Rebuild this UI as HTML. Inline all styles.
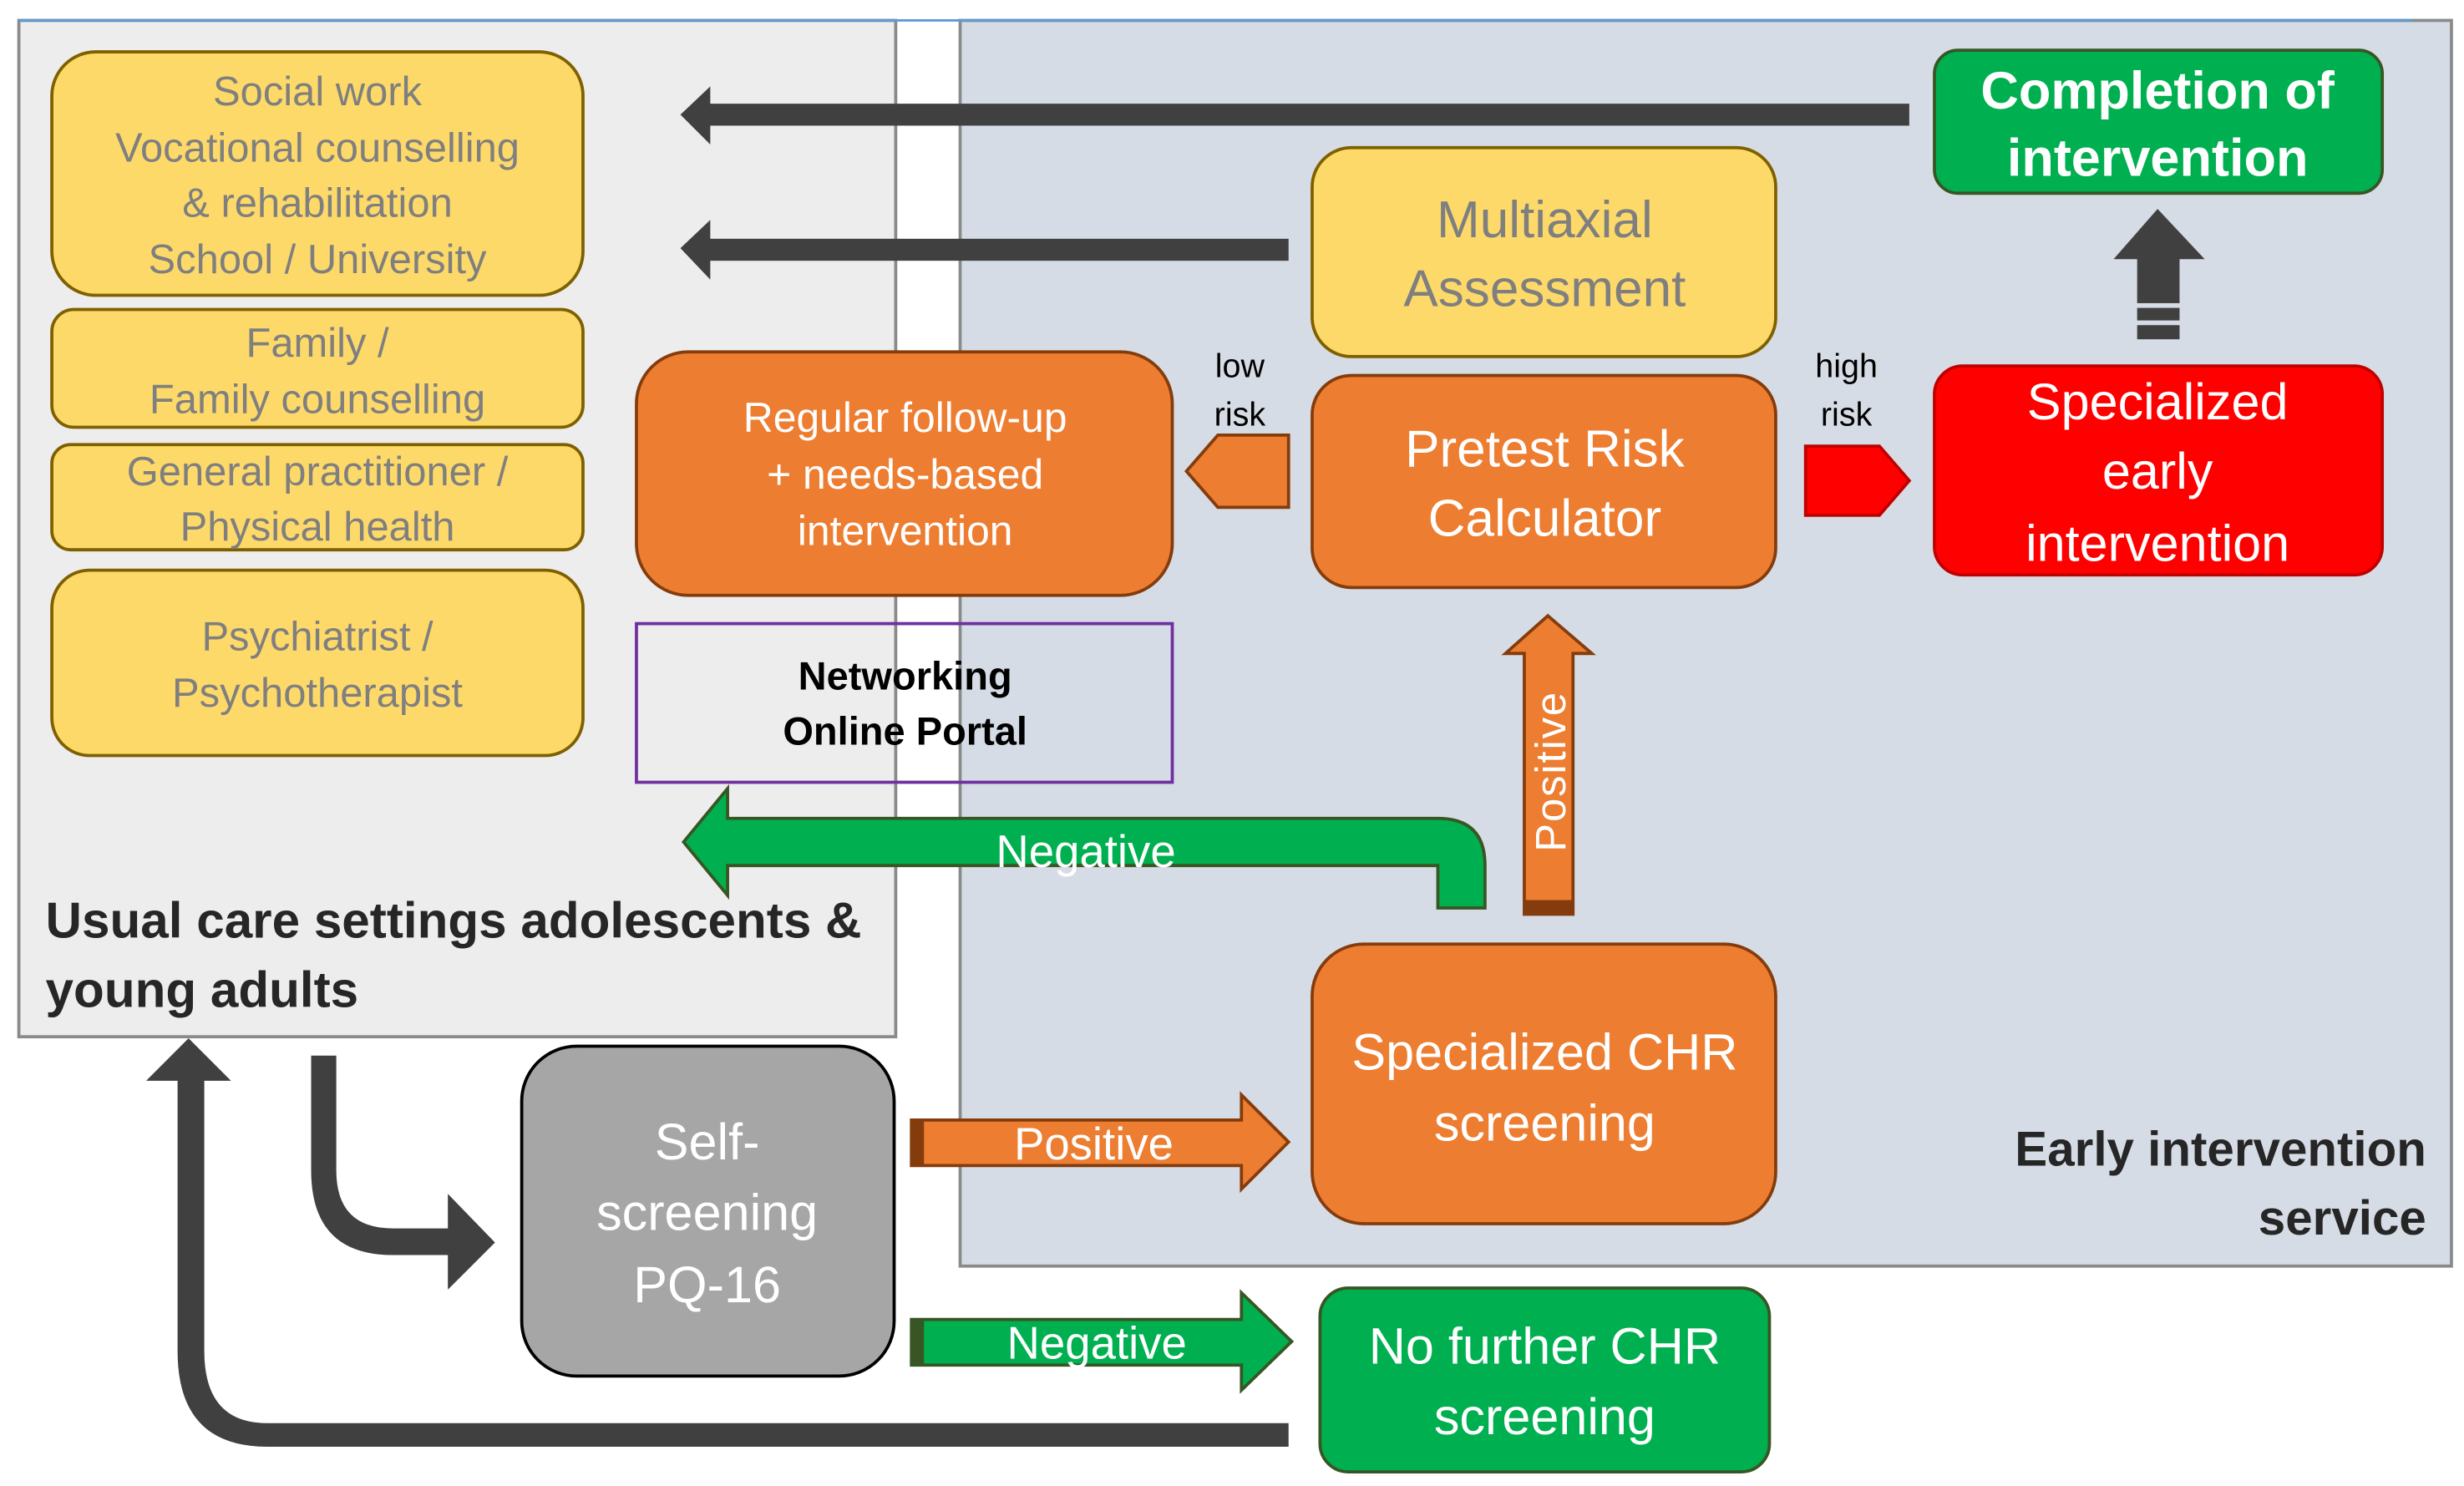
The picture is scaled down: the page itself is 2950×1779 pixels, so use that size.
<!DOCTYPE html>
<html><head><meta charset="utf-8"><style>html,body{margin:0;padding:0;background:#fff}svg{display:block}text{font-family:"Liberation Sans",sans-serif}</style></head><body>
<svg width="2950" height="1779" viewBox="0 0 1568 946" preserveAspectRatio="none" xmlns="http://www.w3.org/2000/svg">
<rect x="12" y="13" width="558" height="647" fill="#ededed" stroke="#8a8a8a" stroke-width="2"/>
<rect x="611" y="13" width="949" height="793" fill="#d6dce5" stroke="#8a8a8a" stroke-width="2"/>
<line x1="12" y1="13" x2="1535" y2="13" stroke="#5b9bd5" stroke-width="1.5"/>

<g fill="#fdd96a" stroke="#7f6000" stroke-width="2">
<rect x="33" y="33" width="338" height="155" rx="28"/>
<rect x="33" y="197" width="338" height="75" rx="14"/>
<rect x="33" y="283" width="338" height="67" rx="12"/>
<rect x="33" y="363" width="338" height="118" rx="24"/>
<rect x="835" y="94" width="295" height="133" rx="25"/>
</g>
<g fill="#7f7f7f" font-size="26" text-anchor="middle">
<text x="202" y="67">Social work</text>
<text x="202" y="103">Vocational counselling</text>
<text x="202" y="138">&amp; rehabilitation</text>
<text x="202" y="174">School / University</text>
<text x="202" y="227">Family /</text>
<text x="202" y="263">Family counselling</text>
<text x="202" y="309">General practitioner /</text>
<text x="202" y="344">Physical health</text>
<text x="202" y="414">Psychiatrist /</text>
<text x="202" y="450">Psychotherapist</text>
<text x="983" y="151" font-size="33">Multiaxial</text>
<text x="983" y="195" font-size="33">Assessment</text>
</g>

<g fill="#ed7d31" stroke="#843c0c" stroke-width="2">
<rect x="405" y="224" width="341" height="155" rx="33"/>
<rect x="835" y="239" width="295" height="135" rx="25"/>
<rect x="835" y="601" width="295" height="178" rx="33"/>
</g>
<g fill="#fff" text-anchor="middle">
<text x="576" y="275" font-size="26.5">Regular follow-up</text>
<text x="576" y="311" font-size="26.5">+ needs-based</text>
<text x="576" y="347" font-size="26.5">intervention</text>
<text x="983" y="297" font-size="33">Pretest Risk</text>
<text x="983" y="341" font-size="33">Calculator</text>
<text x="983" y="681" font-size="32.5">Specialized CHR</text>
<text x="983" y="726" font-size="32.5">screening</text>
</g>

<rect x="405" y="397" width="341" height="101" fill="none" stroke="#7030a0" stroke-width="2"/>
<text x="576" y="439" font-size="25" font-weight="bold" text-anchor="middle" fill="#000">Networking</text>
<text x="576" y="474" font-size="25" font-weight="bold" text-anchor="middle" fill="#000">Online Portal</text>

<g fill="#404040">
<rect x="450" y="66" width="765" height="14"/>
<polygon points="433,73 452,55 452,92"/>
<rect x="450" y="152" width="370" height="14"/>
<polygon points="433,158 452,140 452,178"/>
<polygon points="1373,133 1403,165 1345,165"/>
<rect x="1360" y="164" width="27" height="29"/>
<rect x="1360" y="196" width="27" height="8"/>
<rect x="1360" y="207" width="27" height="9"/>
</g>

<g font-size="21" fill="#000" text-anchor="middle">
<text x="789" y="240">low</text><text x="789" y="271">risk</text>
<text x="1175" y="240">high</text><text x="1175" y="271">risk</text>
</g>
<polygon points="820,277 775,277 755,300 775,323 820,323" fill="#ed7d31" stroke="#843c0c" stroke-width="2"/>
<polygon points="1149,284 1196,284 1215,306 1196,328 1149,328" fill="#ff0000" stroke="#c00000" stroke-width="2"/>

<rect x="1231" y="32" width="285" height="91" rx="15" fill="#00b050" stroke="#375623" stroke-width="2"/>
<text x="1373" y="69" font-size="33.5" font-weight="bold" fill="#fff" text-anchor="middle">Completion of</text>
<text x="1373" y="112" font-size="33.5" font-weight="bold" fill="#fff" text-anchor="middle">intervention</text>
<rect x="1231" y="233" width="285" height="133" rx="18" fill="#ff0000" stroke="#c00000" stroke-width="2"/>
<g fill="#fff" text-anchor="middle" font-size="32.5">
<text x="1373" y="267">Specialized</text>
<text x="1373" y="311">early</text>
<text x="1373" y="357">intervention</text>
</g>

<polygon points="985,392 1013,416 1001,416 1001,582 970,582 970,416 958,416" fill="#ed7d31" stroke="#843c0c" stroke-width="2"/>
<rect x="970" y="573" width="31" height="9" fill="#843c0c"/>
<text transform="translate(996,491) rotate(-90)" font-size="27" fill="#fff" text-anchor="middle" letter-spacing="1">Positive</text>

<path d="M945,578 L945,551 Q945,521 915,521 L463,521 L463,502 L435,536 L463,570 L463,551 L915,551 L915,578 Z" fill="#00b050" stroke="#375623" stroke-width="2"/>
<text x="691" y="552" font-size="29" fill="#fff" text-anchor="middle">Negative</text>

<text x="29" y="597" font-size="32" font-weight="bold" fill="#262626">Usual care settings adolescents &amp;</text>
<text x="29" y="641" font-size="32" font-weight="bold" fill="#262626">young adults</text>
<text x="1544" y="742" font-size="31" font-weight="bold" fill="#262626" text-anchor="end">Early intervention</text>
<text x="1544" y="786" font-size="31" font-weight="bold" fill="#262626" text-anchor="end">service</text>

<rect x="332" y="666" width="237" height="210" rx="35" fill="#a6a6a6" stroke="#000" stroke-width="2"/>
<g fill="#fff" text-anchor="middle" font-size="32.5">
<text x="450" y="738">Self-</text>
<text x="450" y="783">screening</text>
<text x="450" y="829">PQ-16</text>
</g>

<polygon points="580,713 790,713 790,697 820,727 790,757 790,742 580,742" fill="#ed7d31" stroke="#843c0c" stroke-width="2"/>
<rect x="580" y="713" width="8" height="29" fill="#843c0c"/>
<text x="696" y="738" font-size="29" fill="#fff" text-anchor="middle">Positive</text>

<polygon points="580,840 790,840 790,823 822,854 790,885 790,869 580,869" fill="#00b050" stroke="#375623" stroke-width="2"/>
<rect x="580" y="840" width="8" height="29" fill="#375623"/>
<text x="698" y="865" font-size="29" fill="#fff" text-anchor="middle">Negative</text>

<rect x="840" y="820" width="286" height="117" rx="18" fill="#00b050" stroke="#375623" stroke-width="2"/>
<text x="983" y="868" font-size="32.5" fill="#fff" text-anchor="middle">No further CHR</text>
<text x="983" y="913" font-size="32.5" fill="#fff" text-anchor="middle">screening</text>

<path d="M198,672 L214,672 L214,745 Q214,782 250,782 L285,782 L285,760 L315,791 L285,821 L285,799 L250,799 Q198,799 198,745 Z" fill="#404040"/>
<path d="M820,906 L820,921 L170,921 Q113,921 113,860 L113,688 L93,688 L120,661 L147,688 L130,688 L130,860 Q130,906 170,906 Z" fill="#404040"/>
</svg>
</body></html>
